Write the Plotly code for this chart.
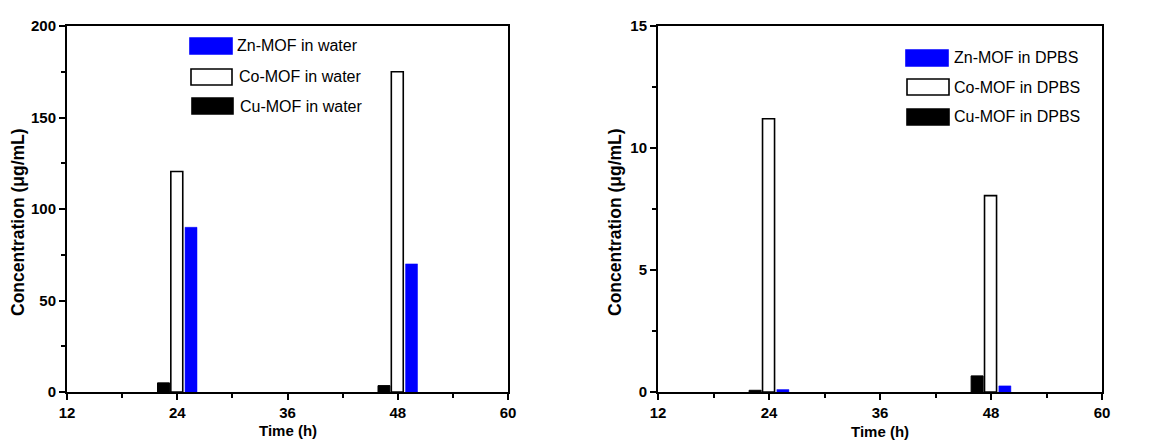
import plotly.graph_objects as go

W, H = 1174, 441
OFF = 8  # page body margin in the browser

times = [24, 48]
water_zn = [90, 70]
water_co = [120.5, 175]
water_cu = [5, 3.5]
dpbs_zn = [0.1, 0.25]
dpbs_co = [11.2, 8.05]
dpbs_cu = [0.07, 0.66]

water_names = ["Zn-MOF in water", "Co-MOF in water", "Cu-MOF in water"]
dpbs_names = ["Zn-MOF in DPBS", "Co-MOF in DPBS", "Cu-MOF in DPBS"]

x_ticks = [12, 24, 36, 48, 60]
left_yticks = [0, 50, 100, 150, 200]
right_yticks = [0, 5, 10, 15]

FONT = "Arial, Liberation Sans, sans-serif"
BLUE = "#0000ff"


def px(x):
    return (x - OFF) / W


def py(y):
    return 1 - (y - OFF) / H


fig = go.Figure()

BW = 1.3
for (zn, co, cu, xa, ya) in [(water_zn, water_co, water_cu, "x", "y"),
                             (dpbs_zn, dpbs_co, dpbs_cu, "x2", "y2")]:
    fig.add_trace(go.Bar(x=times, y=cu, width=BW, offset=-2.15, xaxis=xa, yaxis=ya,
                         marker=dict(color="black", line=dict(color="black", width=1)),
                         showlegend=False))
    fig.add_trace(go.Bar(x=times, y=co, width=BW, offset=-0.7, xaxis=xa, yaxis=ya,
                         marker=dict(color="white", line=dict(color="black", width=1.6)),
                         showlegend=False))
    fig.add_trace(go.Bar(x=times, y=zn, width=BW, offset=0.85, xaxis=xa, yaxis=ya,
                         marker=dict(color=BLUE, line=dict(color=BLUE, width=0.5)),
                         showlegend=False))

xcommon = dict(range=[12, 60], tickvals=x_ticks, ticks="outside", ticklen=6, tickwidth=2,
               tickcolor="black", showline=True, linecolor="black", linewidth=2, mirror=True,
               showgrid=False, zeroline=False, automargin=False,
               tickfont=dict(family=FONT, size=15, color="black", weight="bold"),
               minor=dict(dtick=6, tick0=12, ticks="outside", ticklen=4, tickwidth=2,
                          tickcolor="black", showgrid=False))

ycommon = dict(ticks="outside", ticklen=6, tickwidth=2, tickcolor="black", showline=True,
               linecolor="black", linewidth=2, mirror=True, showgrid=False, zeroline=False,
               automargin=False,
               tickfont=dict(family=FONT, size=15, color="black", weight="bold"))

fig.update_layout(
    width=W, height=H,
    autosize=False,
    margin=dict(l=0, r=0, t=0, b=0, pad=0),
    paper_bgcolor="white", plot_bgcolor="white",
    barmode="overlay",
    xaxis=dict(domain=[px(67), px(508)], anchor="y", **xcommon),
    yaxis=dict(domain=[py(392), py(26)], anchor="x", range=[0, 200], tickvals=left_yticks,
               minor=dict(dtick=25, ticks="outside", ticklen=4, tickwidth=2,
                          tickcolor="black", showgrid=False), **ycommon),
    xaxis2=dict(domain=[px(658), px(1102)], anchor="y2", **xcommon),
    yaxis2=dict(domain=[py(392), py(26)], anchor="x2", range=[0, 15], tickvals=right_yticks,
                minor=dict(dtick=2.5, ticks="outside", ticklen=4, tickwidth=2,
                           tickcolor="black", showgrid=False), **ycommon),
    showlegend=False,
)

shapes = []
annotations = []

for xc, yt in [(288, 430), (880, 431)]:
    annotations.append(dict(x=px(xc), y=py(yt), xref="paper", yref="paper", text="Time (h)",
                            showarrow=False, xanchor="center", yanchor="middle",
                            font=dict(family=FONT, size=15, color="black", weight="bold")))
for xc in [18, 615]:
    annotations.append(dict(x=px(xc), y=py(222), xref="paper", yref="paper",
                            text="Concentration (\u03bcg/mL)", textangle=-90,
                            showarrow=False, xanchor="center", yanchor="middle",
                            font=dict(family=FONT, size=17.5, color="black", weight="bold")))

styles = [dict(fill=BLUE, line=BLUE), dict(fill="white", line="black"),
          dict(fill="black", line="black")]
left_leg = [(190, 232, 38, 54, 235, 46), (191, 232, 69, 85, 237, 77), (192, 233, 98, 114, 238, 106)]
right_leg = [(906, 948, 50, 66, 952, 58), (907, 949, 79, 95, 952, 87), (907, 949, 109, 125, 952, 117)]
for leg, names in [(left_leg, water_names), (right_leg, dpbs_names)]:
    for (x0, x1, y0, y1, tx, ty), st, name in zip(leg, styles, names):
        shapes.append(dict(type="rect", xref="paper", yref="paper",
                           x0=px(x0), x1=px(x1), y0=py(y1), y1=py(y0),
                           fillcolor=st["fill"], line=dict(color=st["line"], width=1.6)))
        annotations.append(dict(x=px(tx), y=py(ty), xref="paper", yref="paper", text=name,
                                showarrow=False, xanchor="left", yanchor="middle",
                                font=dict(family=FONT, size=16, color="black")))

fig.update_layout(shapes=shapes, annotations=annotations)
fig.write_html("out.html")
